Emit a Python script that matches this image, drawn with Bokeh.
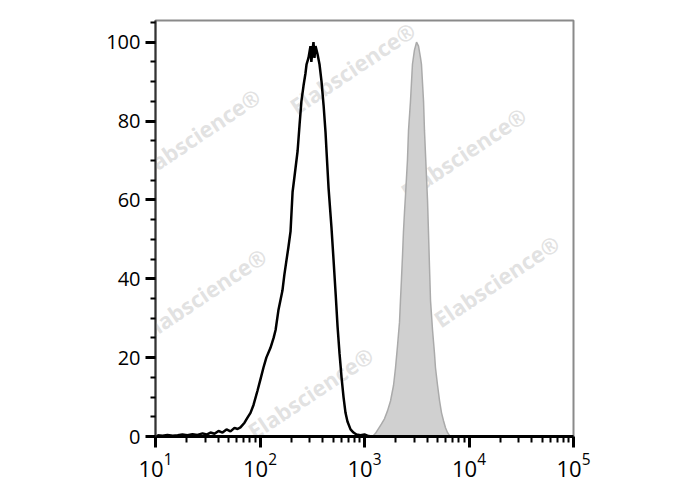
from bokeh.plotting import figure
from bokeh.models import Range1d, FixedTicker, LogTickFormatter, Label, ColumnDataSource
from bokeh.embed import file_html
from bokeh.resources import INLINE

# ---- data (fluorescence intensity, % of max) ----
black_x = [10.4, 11.7, 13.0, 14.6, 16.3, 18.1, 20.2, 22.6, 25.2, 28.2, 30.8, 33.6,
           36.7, 40.1, 43.8, 47.8, 52.2, 57.0, 61.0, 65.0, 71.1, 75.9, 81.1, 86.7,
           94.6, 101, 108, 115, 126, 135, 141, 150, 164, 171, 179, 187, 196, 205,
           214, 229, 239, 249, 261, 272, 279, 291, 304, 310, 318, 325, 332, 340,
           355, 371, 388, 406, 424, 433, 453, 483, 505, 530, 552, 577, 603, 630,
           658, 687, 735, 785, 838, 916, 1000, 1091, 1194]
black_y = [0.3, 0.2, 0.4, 0.2, 0.3, 0.5, 0.3, 0.6, 0.4, 0.8, 0.5, 1.0,
           0.7, 1.4, 1.0, 1.8, 1.3, 2.2, 1.9, 2.3, 3.5, 4.8, 6.0, 8.0,
           11.6, 14.5, 17.5, 20, 22.5, 25, 27, 32, 37, 41, 44.6, 48, 52, 62,
           66, 72.4, 79, 85, 89, 92, 94.4, 96, 99, 95, 98, 100, 96, 99,
           97, 94.4, 90, 84, 77, 72.4, 63, 53, 45, 36, 28, 21, 15, 10,
           6, 3.8, 1.8, 1.0, 0.5, 0.3, 0.5, 0.1, 0]

gray_x = [1194, 1274, 1361, 1455, 1553, 1660, 1774, 1897, 1982, 2070, 2163, 2208,
          2259, 2312, 2360, 2415, 2466, 2576, 2636, 2754, 2877, 3006, 3148, 3289,
          3436, 3508, 3673, 3750, 3917, 4009, 4093, 4188, 4285, 4477, 4677, 4775,
          5000, 5224, 5458, 5702, 5957, 6223, 6501, 6808]
gray_y = [0, 0.8, 2, 3.2, 4.5, 6.5, 9, 13, 17.5, 23, 29, 34.4,
          40, 46, 52, 57, 61, 70, 77.5, 85, 94.4, 98, 100, 99,
          96, 94.4, 85, 77.5, 66, 60, 52, 43, 34.4, 27, 21, 17.5,
          13, 9.1, 6, 4, 2.2, 1, 0.3, 0]

x_major = [10, 100, 1000, 10000, 100000]
x_minor = [m * d for d in [10, 100, 1000, 10000] for m in range(2, 10)]
y_major = [0, 20, 40, 60, 80, 100]
y_minor = [5, 10, 15, 25, 30, 35, 45, 50, 55, 65, 70, 75, 85, 90, 95, 105]

wm_text = "Elabscience\u00ae"
wm_x = [767, 25.2, 8850, 28.8, 18300, 304]
wm_y = [93.5, 76.7, 71.9, 36.2, 39.5, 11.1]

FONT = "Open Sans"

p = figure(width=680, height=482, x_axis_type="log",
           x_range=Range1d(10, 1e5), y_range=Range1d(0, 105.5),
           output_backend="svg", toolbar_location=None,
           min_border_left=155, min_border_right=107,
           min_border_top=20, min_border_bottom=46)

p.xgrid.visible = False
p.ygrid.visible = False
p.background_fill_color = "white"
p.border_fill_color = "white"
p.outline_line_color = "#8a8a8a"
p.outline_line_width = 2

# watermark
for wx, wy in zip(wm_x, wm_y):
    p.add_layout(Label(x=wx, y=wy, text=wm_text, angle=0.59,
                       text_align="center", text_baseline="middle",
                       text_font=FONT, text_font_size="22px", text_font_style="bold",
                       text_color="#dadada", text_alpha=0.8, level="underlay"))

gsrc = ColumnDataSource(dict(x=gray_x, y=gray_y))
p.varea(x="x", y1=0, y2="y", source=gsrc, fill_color="#d0d0d0")
p.line(x="x", y="y", source=gsrc, line_color="#aaaaaa", line_width=1.5)

bsrc = ColumnDataSource(dict(x=black_x, y=black_y))
p.line(x="x", y="y", source=bsrc, line_color="black", line_width=2.5)

# x axis
xa = p.xaxis[0]
xa.ticker = FixedTicker(ticks=x_major, minor_ticks=x_minor)
xa.formatter = LogTickFormatter()
xa.axis_line_color = "black"
xa.axis_line_width = 3
xa.major_tick_line_color = "black"
xa.major_tick_line_width = 3
xa.major_tick_in = 0
xa.major_tick_out = 11
xa.minor_tick_line_color = "black"
xa.minor_tick_line_width = 2
xa.minor_tick_in = 0
xa.minor_tick_out = 6
xa.major_label_text_font = FONT
xa.major_label_text_font_size = "22px"
xa.major_label_text_color = "black"
xa.major_label_text_align = "left"
xa.major_label_standoff = 5

# y axis
ya = p.yaxis[0]
ya.ticker = FixedTicker(ticks=y_major, minor_ticks=y_minor)
ya.axis_line_color = "#333333"
ya.axis_line_width = 2
ya.major_tick_line_color = "black"
ya.major_tick_line_width = 3
ya.major_tick_in = 0
ya.major_tick_out = 10
ya.minor_tick_line_color = "black"
ya.minor_tick_line_width = 2
ya.minor_tick_in = 0
ya.minor_tick_out = 5
ya.major_label_text_font = FONT
ya.major_label_text_font_size = "20px"
ya.major_label_text_color = "black"
ya.major_label_standoff = 5

open("out.html", "w").write(file_html(p, INLINE))
